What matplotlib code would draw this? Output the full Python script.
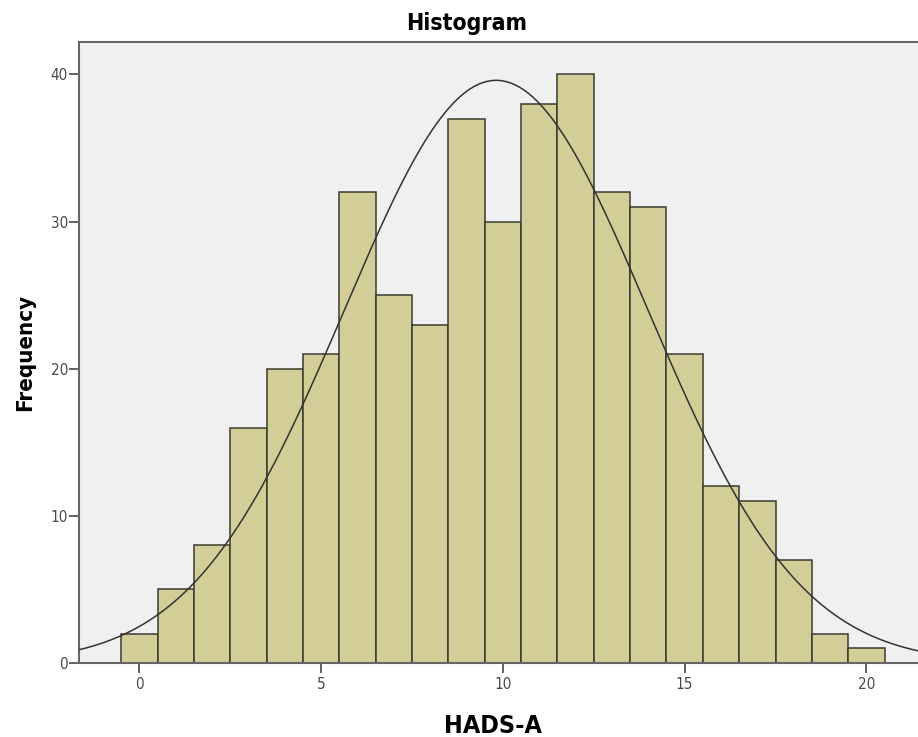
import numpy as np
import matplotlib.pyplot as plt

# HADS-A score frequencies (scores 0..20)
scores = np.arange(0, 21)
counts = [2, 5, 8, 16, 20, 21, 32, 25, 23, 37, 30, 38, 40, 32, 31, 21, 12, 11, 7, 2, 1]

x_ticks = [0, 5, 10, 15, 20]
y_ticks = [0, 10, 20, 30, 40]

plt.rcParams['font.family'] = ['DejaVu Sans']
plt.rcParams['font.stretch'] = 'condensed'

W, H = 918, 737
fig = plt.figure(figsize=(W / 100, H / 100), dpi=100)
ax = fig.add_axes([79 / W, (H - 663) / H, 1 - 79 / W, (663 - 42) / H])
ax.set_facecolor('#f0f0f0')

ax.bar(scores, counts, width=1.0, color='#d3ce97', edgecolor='#3a3a2e', linewidth=1.1, zorder=2)

# fitted normal curve from the frequency table
n = np.sum(counts)
mean = np.sum(scores * np.array(counts)) / n
sd = np.sqrt(np.sum(np.array(counts) * (scores - mean) ** 2) / (n - 1))
xs = np.linspace(-1.7, 21.5, 400)
ys = n / (np.sqrt(2 * np.pi) * sd) * np.exp(-0.5 * ((xs - mean) / sd) ** 2)
ax.plot(xs, ys, color='#333333', linewidth=1.1, zorder=3)

ax.set_xlim(-1.66, 21.42)
ax.set_ylim(0, 42.2)
ax.set_xticks(x_ticks)
ax.set_yticks(y_ticks)
ax.tick_params(axis='both', direction='out', length=7, width=1.3, color='#555555',
               labelsize=11, labelcolor='#4a4a4a')
ax.tick_params(axis='y', pad=1)
ax.tick_params(axis='x', pad=3)

for side in ['left', 'bottom', 'top']:
    ax.spines[side].set_color('#666666')
    ax.spines[side].set_linewidth(1.5)
ax.spines['right'].set_visible(False)

fig.text(467 / W, 1 - 30 / H, 'Histogram', ha='center', va='baseline',
         fontsize=16.5, fontweight='bold')
fig.text(25 / W, 1 - 352 / H, 'Frequency', ha='center', va='center', rotation=90,
         fontsize=16, fontweight='bold')
fig.text(493 / W, 1 - 733 / H, 'HADS-A', ha='center', va='baseline',
         fontsize=18, fontweight='bold')

fig.savefig('out.png', dpi=100)
